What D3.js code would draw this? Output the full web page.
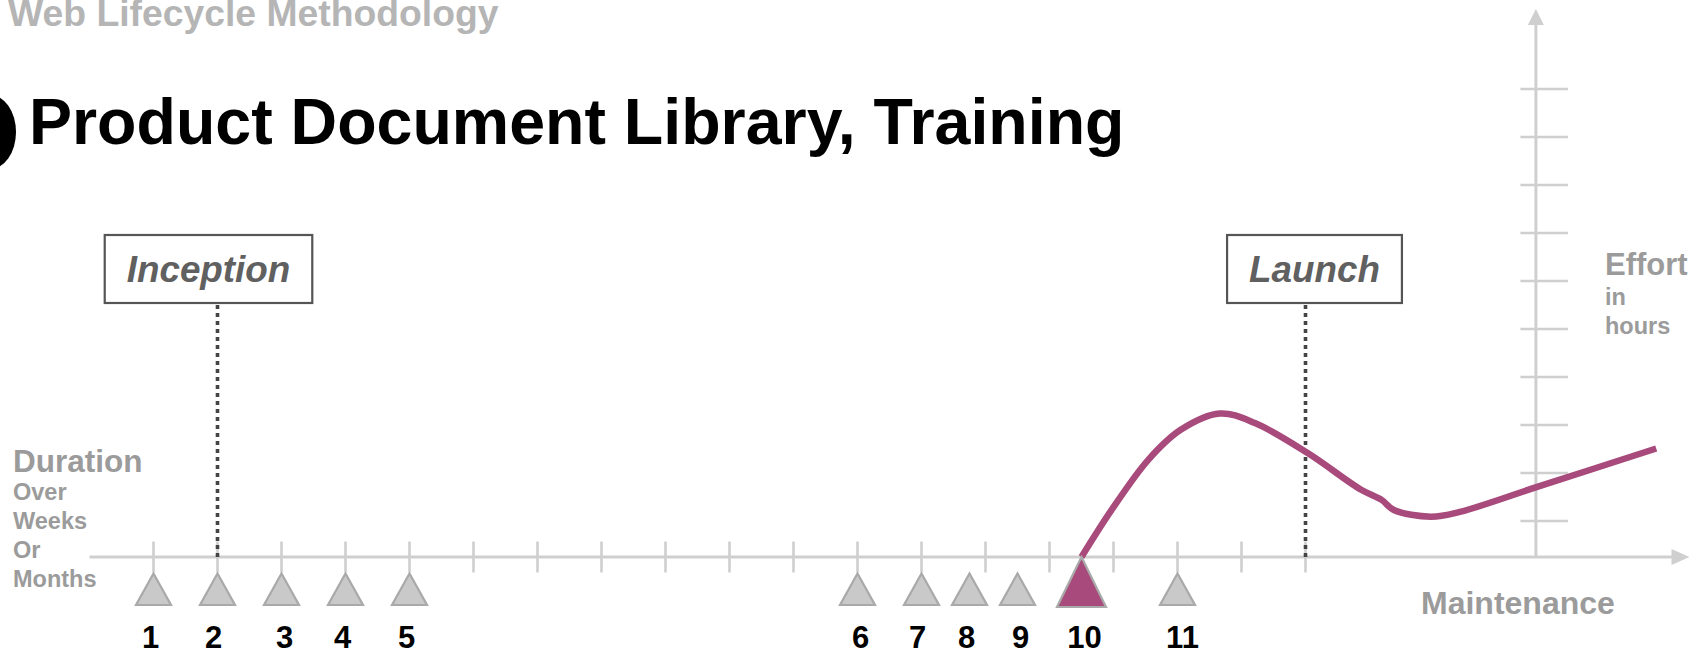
<!DOCTYPE html>
<html><head><meta charset="utf-8">
<script src="https://cdn.jsdelivr.net/npm/d3@7"></script>
<style>
body{margin:0;background:#fff;overflow:hidden;}
svg{display:block;font-family:"Liberation Sans",Arial,Helvetica,sans-serif;}
</style>
</head><body>
<svg id="chart" width="1692" height="648"></svg>
<script>
// ---- data ----
const supTitle = "Web Lifecycle Methodology";
const mainTitle = "Product Document Library, Training";
const milestoneLabels = ["1","2","3","4","5","6","7","8","9","10","11"];
const milestonePositions = [0, 1, 2, 3, 4, 11, 12, 12.75, 13.5, 14.5, 16];
const highlightedMilestone = "10";
const durationTicks = d3.range(0, 19);
const effortTicks = [0.75, 1.75, 2.75, 3.75, 4.75, 5.75, 6.75, 7.75, 8.75, 9.75];
const phaseNames = ["Inception", "Launch"];
const phasePositions = [1, 18];
const effortCurveX = [14.5, 14.97, 15.54, 16.05, 16.66, 17.21, 18.04, 18.87, 19.19, 19.38, 19.96, 20.41, 21.62, 23.48];
const effortCurveY = [0, 0.98, 2.02, 2.65, 2.99, 2.79, 2.16, 1.40, 1.19, 0.98, 0.84, 0.94, 1.46, 2.26];
const xAxisLabelLines = ["Duration", "Over", "Weeks", "Or", "Months"];
const yAxisLabelLines = ["Effort", "in", "hours"];
const endLabel = "Maintenance";
const effortAxisAt = 21.6;

// ---- layout ----
const svg = d3.select("#chart");
const x = d3.scaleLinear().domain([-1, 24]).range([89.5, 1689.5]);
const y = d3.scaleLinear().domain([0, 10]).range([557, 77]);
const axisColor = "#cfcfcf";
const greyText = "#9b9b9b";
const magenta = "#a84a7b";
const labelNudge = [-3, -4, 3, -3, -3, 3, -4, -3, 3, 3, 5];

// titles
svg.append("text").attr("x", 8).attr("y", 26)
  .attr("font-size", 37.3).attr("font-weight", "bold").attr("fill", "#b5b5b5").text(supTitle);
svg.append("ellipse").attr("cx", -10).attr("cy", 132).attr("rx", 26).attr("ry", 37).attr("fill", "#000");
svg.append("text").attr("x", 29).attr("y", 144)
  .attr("font-size", 64.5).attr("font-weight", "bold").attr("fill", "#000").text(mainTitle);

// x axis line + ticks
const y0 = y(0);
svg.append("line").attr("x1", x(-1)).attr("x2", x(24) - 14).attr("y1", y0).attr("y2", y0)
  .attr("stroke", axisColor).attr("stroke-width", 3);
svg.append("path")
  .attr("d", `M${x(24)},${y0} L${x(24) - 18},${y0 - 8} L${x(24) - 18},${y0 + 8} Z`)
  .attr("fill", axisColor);
svg.append("g").selectAll("line").data(durationTicks).join("line")
  .attr("x1", d => x(d)).attr("x2", d => x(d))
  .attr("y1", y0 - 15.5).attr("y2", y0 + 15.5)
  .attr("stroke", axisColor).attr("stroke-width", 2.6);

// effort axis
const ax = x(effortAxisAt);
svg.append("line").attr("x1", ax).attr("x2", ax).attr("y1", y0).attr("y2", 20)
  .attr("stroke", axisColor).attr("stroke-width", 3);
svg.append("path")
  .attr("d", `M${ax},9 L${ax - 8},25 L${ax + 8},25 Z`).attr("fill", axisColor);
svg.append("g").selectAll("line").data(effortTicks).join("line")
  .attr("x1", ax - 15.5).attr("x2", ax + 32)
  .attr("y1", d => y(d)).attr("y2", d => y(d))
  .attr("stroke", axisColor).attr("stroke-width", 2.6);

// axis labels
const durG = svg.append("g");
durG.selectAll("text").data(xAxisLabelLines).join("text")
  .attr("x", 13)
  .attr("y", (d, i) => i === 0 ? 472 : 500 + (i - 1) * 29)
  .attr("font-size", (d, i) => i === 0 ? 31.5 : 23.5)
  .attr("font-weight", "bold").attr("fill", greyText).text(d => d);
const effG = svg.append("g");
effG.selectAll("text").data(yAxisLabelLines).join("text")
  .attr("x", 1605)
  .attr("y", (d, i) => i === 0 ? 275 : 305 + (i - 1) * 28.5)
  .attr("font-size", (d, i) => i === 0 ? 31 : 23.5)
  .attr("font-weight", "bold").attr("fill", greyText).text(d => d);
svg.append("text").attr("x", 1421).attr("y", 614)
  .attr("font-size", 32).attr("font-weight", "bold").attr("fill", greyText).text(endLabel);

// phase boxes with dotted lines
const boxOffsets = [-9, 9];
phaseNames.forEach((name, i) => {
  const px = x(phasePositions[i]);
  const g = svg.append("g");
  const cx = px + boxOffsets[i];
  const t = g.append("text").attr("x", cx).attr("y", 282).attr("text-anchor", "middle")
    .attr("font-size", 36.8).attr("font-weight", "bold").attr("font-style", "italic")
    .attr("fill", "#606060").text(name);
  const w = t.node().getComputedTextLength() + 44;
  g.insert("rect", "text").attr("x", cx - w / 2).attr("y", 235).attr("width", w).attr("height", 68)
    .attr("fill", "#fff").attr("stroke", "#555").attr("stroke-width", 2.2);
  svg.append("line").attr("x1", px).attr("x2", px).attr("y1", 305).attr("y2", y0)
    .attr("stroke", "#444").attr("stroke-width", 3.6).attr("stroke-dasharray", "4,4");
});

// effort curve
const curveData = effortCurveX.map((d, i) => [d, effortCurveY[i]]);
svg.append("path").datum(curveData)
  .attr("d", d3.line().x(d => x(d[0])).y(d => y(d[1])).curve(d3.curveCatmullRom.alpha(0.5)))
  .attr("fill", "none").attr("stroke", magenta).attr("stroke-width", 6.5);

// milestones
const ms = milestoneLabels.map((l, i) => ({label: l, pos: milestonePositions[i], hi: l === highlightedMilestone, nudge: labelNudge[i]}));
const mg = svg.append("g");
mg.selectAll("path").data(ms).join("path")
  .attr("d", d => {
    const cx = x(d.pos);
    const top = d.hi ? y0 : y0 + 16.5;
    const bot = d.hi ? y0 + 50 : y0 + 48;
    const hw = d.hi ? 24.5 : 17.5;
    return `M${cx},${top} L${cx + hw},${bot} L${cx - hw},${bot} Z`;
  })
  .attr("fill", d => d.hi ? magenta : "#c9c9c9")
  .attr("stroke", "#a9a9a9").attr("stroke-width", 2.2).attr("stroke-linejoin", "miter");
mg.selectAll("text").data(ms).join("text")
  .attr("x", d => x(d.pos) + d.nudge).attr("y", 648).attr("text-anchor", "middle")
  .attr("font-size", 31).attr("font-weight", "bold").attr("fill", "#000").text(d => d.label);
</script>
</body></html>
